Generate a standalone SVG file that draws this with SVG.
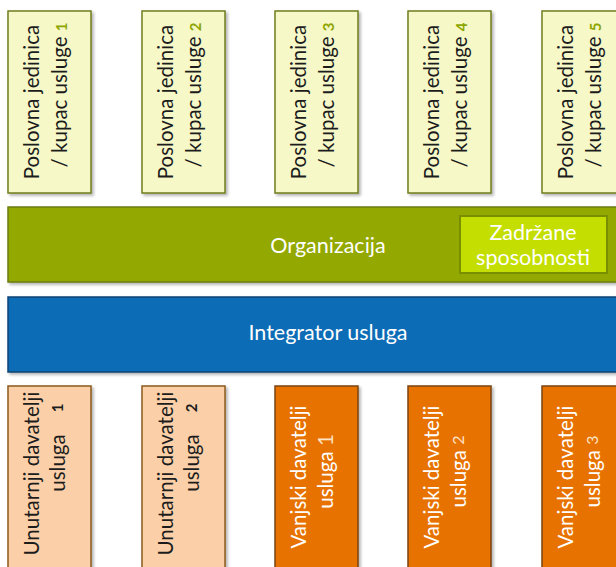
<svg xmlns="http://www.w3.org/2000/svg" width="616" height="567" viewBox="0 0 616 567">
<defs>
<filter id="sh" x="-10%" y="-10%" width="130%" height="130%">
<feDropShadow dx="2" dy="2" stdDeviation="1.5" flood-color="#000" flood-opacity="0.3"/>
</filter>
<style>
text{font-family:Lato,"Open Sans","Liberation Sans",sans-serif;font-size:20.5px}
.cu rect{fill:#f6f8c8;stroke:#6f7d1c;stroke-width:1.5}
.cu text{fill:#1c1c1c}
.gn{fill:#8ea600;font-size:15px;font-weight:bold}
.in rect{fill:#fbd0a8;stroke:#8c5a1e;stroke-width:1.5}
.in text{fill:#1c1c1c}
.bn{fill:#c06e0c;font-size:15px;font-weight:bold}
.ex rect{fill:#e77200;stroke:#7a4414;stroke-width:1.5}
.ex text{fill:#ffffff}
.en{fill:#fde2c4}
.w{fill:#ffffff;font-size:21.5px}
</style>
</defs>
<rect width="616" height="567" fill="#ffffff"/>

<g id="cust1" class="cu"><rect x="8" y="11" width="83" height="182" filter="url(#sh)"/>
<text transform="translate(49.5,102) rotate(-90)" text-anchor="middle"><tspan x="0" y="-10.5">Poslovna jedinica</tspan><tspan x="7" y="17.5">/ kupac usluge <tspan class="gn">1</tspan></tspan></text></g>
<g id="cust2" class="cu"><rect x="142" y="11" width="83" height="182" filter="url(#sh)"/>
<text transform="translate(183.5,102) rotate(-90)" text-anchor="middle"><tspan x="0" y="-10.5">Poslovna jedinica</tspan><tspan x="7" y="17.5">/ kupac usluge <tspan class="gn">2</tspan></tspan></text></g>
<g id="cust3" class="cu"><rect x="275" y="11" width="83" height="182" filter="url(#sh)"/>
<text transform="translate(316.5,102) rotate(-90)" text-anchor="middle"><tspan x="0" y="-10.5">Poslovna jedinica</tspan><tspan x="7" y="17.5">/ kupac usluge <tspan class="gn">3</tspan></tspan></text></g>
<g id="cust4" class="cu"><rect x="408" y="11" width="83" height="182" filter="url(#sh)"/>
<text transform="translate(449.5,102) rotate(-90)" text-anchor="middle"><tspan x="0" y="-10.5">Poslovna jedinica</tspan><tspan x="7" y="17.5">/ kupac usluge <tspan class="gn">4</tspan></tspan></text></g>
<g id="cust5" class="cu"><rect x="542" y="11" width="83" height="182" filter="url(#sh)"/>
<text transform="translate(583.5,102) rotate(-90)" text-anchor="middle"><tspan x="0" y="-10.5">Poslovna jedinica</tspan><tspan x="7" y="17.5">/ kupac usluge <tspan class="gn">5</tspan></tspan></text></g>

<g id="org"><rect x="8" y="207" width="620" height="75" fill="#93a800" stroke="#6c7c10" stroke-width="1.5" filter="url(#sh)"/>
<text class="w" x="328" y="253" text-anchor="middle">Organizacija</text></g>
<g id="retained"><rect x="460" y="216" width="147" height="57" fill="#c3de00" stroke="#7a8f00" stroke-width="2"/>
<text class="w" x="533" text-anchor="middle"><tspan x="533" y="240">Zadržane</tspan><tspan x="533" y="265">sposobnosti</tspan></text></g>

<g id="integrator"><rect x="8" y="297" width="620" height="75" fill="#0f6cb6" stroke="#0b4474" stroke-width="1.5" filter="url(#sh)"/>
<text class="w" x="328" y="340" text-anchor="middle">Integrator usluga</text></g>

<g id="int1" class="in"><rect x="8" y="386" width="83" height="182" filter="url(#sh)"/>
<text transform="translate(49.5,477) rotate(-90)" text-anchor="middle"><tspan x="3.5" y="-11">Unutarnji davatelji</tspan><tspan x="14" y="15">usluga</tspan></text>
<text class="bn" transform="translate(49.5,477) rotate(-90)" x="69" y="13" text-anchor="middle">1</text></g>
<g id="int2" class="in"><rect x="142" y="386" width="83" height="182" filter="url(#sh)"/>
<text transform="translate(183.5,477) rotate(-90)" text-anchor="middle"><tspan x="3.5" y="-11">Unutarnji davatelji</tspan><tspan x="14" y="15">usluga</tspan></text>
<text class="bn" transform="translate(183.5,477) rotate(-90)" x="69" y="13" text-anchor="middle">2</text></g>

<g id="ext1" class="ex"><rect x="275" y="386" width="83" height="182" filter="url(#sh)"/>
<text transform="translate(316.5,477) rotate(-90)" text-anchor="middle"><tspan x="0" y="-11">Vanjski davatelji</tspan><tspan x="5.5" y="16">usluga <tspan class="en">1</tspan></tspan></text></g>
<g id="ext2" class="ex"><rect x="408" y="386" width="83" height="182" filter="url(#sh)"/>
<text transform="translate(449.5,477) rotate(-90)" text-anchor="middle"><tspan x="0" y="-11">Vanjski davatelji</tspan><tspan x="5.5" y="16">usluga <tspan class="en" font-size="16" dy="-2">2</tspan></tspan></text></g>
<g id="ext3" class="ex"><rect x="542" y="386" width="83" height="182" filter="url(#sh)"/>
<text transform="translate(583.5,477) rotate(-90)" text-anchor="middle"><tspan x="0" y="-11">Vanjski davatelji</tspan><tspan x="5.5" y="16">usluga <tspan class="en" font-size="16" dy="-2">3</tspan></tspan></text></g>

<g id="connectors"></g>
</svg>
